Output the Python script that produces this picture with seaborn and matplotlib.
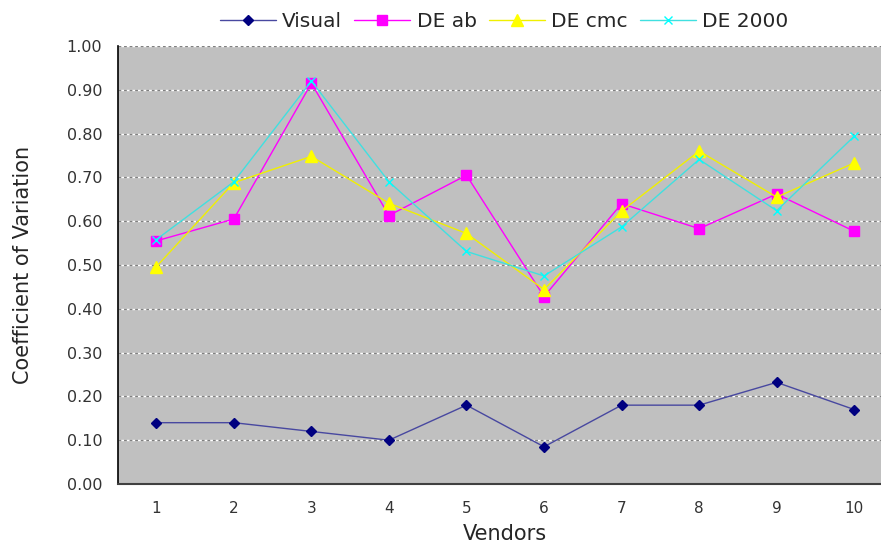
import matplotlib
matplotlib.use("Agg")
import matplotlib.pyplot as plt
import seaborn as sns
import pandas as pd

vendors = [1, 2, 3, 4, 5, 6, 7, 8, 9, 10]
visual = [0.14, 0.14, 0.12, 0.10, 0.18, 0.085, 0.18, 0.18, 0.232, 0.17]
de_ab = [0.555, 0.605, 0.915, 0.613, 0.705, 0.428, 0.640, 0.583, 0.662, 0.577]
de_cmc = [0.496, 0.688, 0.748, 0.641, 0.572, 0.444, 0.623, 0.760, 0.655, 0.733]
de_2000 = [0.558, 0.690, 0.920, 0.690, 0.531, 0.475, 0.587, 0.741, 0.624, 0.794]

series_names = ["Visual", "DE ab", "DE cmc", "DE 2000"]
y_ticks = [0.0, 0.1, 0.2, 0.3, 0.4, 0.5, 0.6, 0.7, 0.8, 0.9, 1.0]

sns.set_style("white")
plt.rcParams["font.family"] = ["DejaVu Sans"]

fig = plt.figure(figsize=(8.81, 5.43), dpi=100)
W, H = 881, 543
left_px, right_px, top_px, bottom_px = 117.5, 893.0, 46.0, 484.0
ax = fig.add_axes([left_px / W, 1 - bottom_px / H,
                   (right_px - left_px) / W, (bottom_px - top_px) / H])
ax.set_facecolor("#C0C0C0")

# Excel-style dotted gridlines: white base with grey dashes on top
for t in y_ticks[1:]:
    ax.axhline(t, color="white", lw=1.0, zorder=0.5)
    ax.axhline(t, color="#808080", lw=1.0, dashes=(2, 2), zorder=0.6)

styles = [
    ("Visual", visual, "#000080", "#4848A0", "D", 5, 1.0),
    ("DE ab", de_ab, "#FF00FF", "#FF00FF", "s", 7, 1.0),
    ("DE cmc", de_cmc, "#FFFF00", "#F0F000", "^", 8, 1.0),
    ("DE 2000", de_2000, "#00FFFF", "#40E0E0", "x", 6, 1.0),
]
for name, vals, mcol, lcol, mk, ms, lw in styles:
    df = pd.DataFrame({"Vendors": vendors, "CV": vals})
    sns.lineplot(data=df, x="Vendors", y="CV", ax=ax, color=lcol, lw=lw,
                 marker=mk, markersize=ms, markerfacecolor=mcol,
                 markeredgecolor=mcol, markeredgewidth=1.0, label=name,
                 zorder=3)

ax.set_xlim(0.5, 10.5)
ax.set_ylim(0, 1.0)
ax.set_yticks(y_ticks)
ax.set_yticklabels([f"{t:.2f}" for t in y_ticks])
ax.set_xticks(vendors)
ax.set_xticklabels([str(v) for v in vendors])
ax.set_xticks([v + 0.5 for v in range(0, 11)], minor=True)
ax.tick_params(axis="x", which="major", length=0, pad=12,
               labelsize=11, colors="#333333")
ax.tick_params(axis="x", which="minor", length=5, width=1, color="black",
               direction="out")
ax.tick_params(axis="y", which="major", length=5, width=1, color="black",
               direction="out", labelsize=11.5, labelcolor="#333333", pad=6)

for s in ["top", "right"]:
    ax.spines[s].set_visible(False)
ax.spines["left"].set_color("black")
ax.spines["left"].set_linewidth(1.2)
ax.spines["bottom"].set_color("#404040")
ax.spines["bottom"].set_linewidth(1.5)

ax.set_xlabel("Vendors", fontsize=15, labelpad=6)
ax.set_ylabel("Coefficient of Variation", fontsize=15)
ax.yaxis.set_label_coords((33 - left_px) / (right_px - left_px), 0.5)

ax.legend_.remove()
handles, labels = ax.get_legend_handles_labels()
fig.legend(handles, labels, loc="center", bbox_to_anchor=(0.572, 0.96),
           ncol=4, frameon=False, fontsize=14.5, handlelength=2.8,
           columnspacing=0.6, handletextpad=0.3)

fig.savefig("out.png", dpi=100)
